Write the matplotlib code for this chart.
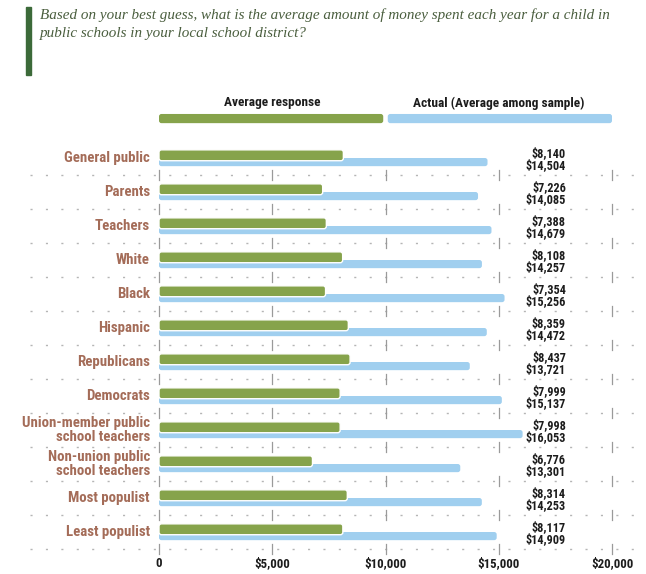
import matplotlib
matplotlib.use("Agg")
import matplotlib.pyplot as plt
from matplotlib import font_manager
from matplotlib.patches import Rectangle, FancyBboxPatch
import numpy as np

# ---------------- data ----------------
categories = ["General public", "Parents", "Teachers", "White", "Black", "Hispanic",
              "Republicans", "Democrats", "Union-member public\nschool teachers",
              "Non-union public\nschool teachers", "Most populist", "Least populist"]
avg_response = [8140, 7226, 7388, 8108, 7354, 8359, 8437, 7999, 7998, 6776, 8314, 8117]
actual = [14504, 14085, 14679, 14257, 15256, 14472, 13721, 15137, 16053, 13301, 14253, 14909]
xticks = [0, 5000, 10000, 15000, 20000]
xtick_labels = ["0", "$5,000", "$10,000", "$15,000", "$20,000"]
legend_labels = ["Average response", "Actual (Average among sample)"]
title = ("Based on your best guess, what is the average amount of money spent each year for a child in\n"
         "public schools in your local school district?")

# ---------------- fonts ----------------
avail = {f.name for f in font_manager.fontManager.ttflist}
def pick(cands, default):
    for c in cands:
        if c in avail:
            return c
    return default
COND = pick(["Roboto Condensed", "Liberation Sans Narrow", "Open Sans Condensed", "DejaVu Sans"], "DejaVu Sans")
SERIF = pick(["Liberation Serif", "DejaVu Serif"], "serif")

GREEN = "#86a34b"
BLUE = "#a0cfef"
LABEL_C = "#a46c58"
DARK = "#1c1c1c"
GRID_C = "#b5b5b5"

W, H = 646, 574
fig = plt.figure(figsize=(W / 100, H / 100), dpi=100)

# axes layout in pixels
ax_left, ax_right = 30, 640
ax_top, ax_bot = 141, 549
x0_px, x20_px = 159, 612
ax = fig.add_axes([ax_left / W, 1 - ax_bot / H, (ax_right - ax_left) / W, (ax_bot - ax_top) / H])
ppu = (x20_px - x0_px) / xticks[-1]
xmin = -(x0_px - ax_left) / ppu
xmax = xticks[-1] + (ax_right - x20_px) / ppu
ax.set_xlim(xmin, xmax)
n = len(categories)
ax.set_ylim(n - 0.5, -0.5)
ax.axis("off")

row_px = (ax_bot - ax_top) / n
aspect = (1 / row_px) / (1 / ppu)   # y-units per px / x-units per px
rad = 2.5 / ppu                      # 2.5 px rounding in x units


def round_bars(bars, color, edge, lw, z, clip=True):
    for b in bars:
        x, yb, w, h = b.get_x(), b.get_y(), b.get_width(), b.get_height()
        b.remove()
        p = FancyBboxPatch((x, yb), w, h,
                           boxstyle=f"round,pad=0,rounding_size={rad}",
                           mutation_aspect=aspect, facecolor=color, edgecolor=edge,
                           linewidth=lw, zorder=z, clip_on=clip)
        ax.add_patch(p)


y = np.arange(n)
# blue (actual) behind, green (avg) on top
bb = ax.barh(y + 0.12, actual, height=0.24)
round_bars(bb, BLUE, "none", 0, 2)
gb = ax.barh(y - 0.08, avg_response, height=0.32)
round_bars(gb, GREEN, "white", 1.0, 3)

# separators with vertical tick marks
for i in range(n):
    ys = i + 0.5
    ax.plot([xmin, xmax], [ys, ys], color=GRID_C, lw=1.0, ls=(0, (1.5, 9.6)), zorder=1,
            clip_on=False)
    for xt in xticks:
        ax.plot([xt, xt], [ys - 0.14, ys + 0.14], color="#9a9a9a", lw=0.9, zorder=1,
                clip_on=False)

# category labels
for i, c in enumerate(categories):
    ax.text(-400, i, c, ha="right", va="center", fontsize=10.7, fontweight="bold",
            color=LABEL_C, family=COND, linespacing=0.95)

# value labels
val_x = (566 - x0_px) / ppu
for i in range(n):
    ax.text(val_x, i - 0.14, f"${avg_response[i]:,}", ha="right", va="center",
            fontsize=8.8, fontweight="bold", color=DARK, family=COND)
    ax.text(val_x, i + 0.22, f"${actual[i]:,}", ha="right", va="center",
            fontsize=8.8, fontweight="bold", color=DARK, family=COND)

# x tick labels
for xt, lab in zip(xticks, xtick_labels):
    ax.text(xt, n - 0.5 + 0.42, lab, ha="center", va="center", fontsize=9.3,
            fontweight="bold", color=DARK, family=COND, clip_on=False)

# legend bars + text
half = xticks[-1] / 2
leg_y = -1.16
lg = ax.barh([leg_y], [half * 0.99], left=0, height=0.27)
round_bars(lg, GREEN, "none", 0, 2, clip=False)
lb = ax.barh([leg_y], [half * 0.99], left=half * 1.01, height=0.27)
round_bars(lb, BLUE, "none", 0, 2, clip=False)
ax.text(half * 0.5, -1.62, legend_labels[0], ha="center", va="center", fontsize=9.6,
        fontweight="bold", color=DARK, family=COND, clip_on=False)
ax.text(half * 1.5, -1.62, legend_labels[1], ha="center", va="center", fontsize=9.6,
        fontweight="bold", color=DARK, family=COND, clip_on=False)

# title and accent bar
fig.patches.append(Rectangle((26 / W, 1 - 75 / H), 5 / W, 68 / H, transform=fig.transFigure,
                             color="#3c6a39", zorder=5))
fig.text(40 / W, 1 - 8 / H, title, ha="left", va="top", fontsize=10.9, style="italic",
         family=SERIF, color="#4a5e3e", linespacing=1.5)

fig.savefig("out.png", dpi=100)
